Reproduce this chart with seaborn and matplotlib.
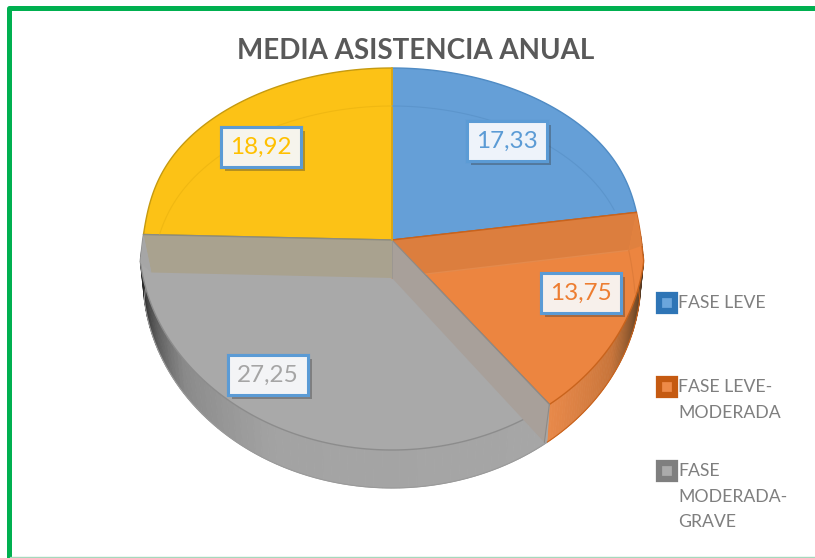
import numpy as np
import matplotlib
matplotlib.use('Agg')
import matplotlib.pyplot as plt
import matplotlib.patheffects as pe
from matplotlib.colors import to_rgb
import seaborn as sns

# Data
fases = ['FASE LEVE', 'FASE LEVE-MODERADA', 'FASE MODERADA-GRAVE', 'SIN NOMBRE']
valores = [17.33, 13.75, 27.25, 18.92]
leyenda = ['FASE LEVE', 'FASE LEVE-\nMODERADA', 'FASE\nMODERADA-\nGRAVE']
titulo = 'MEDIA ASISTENCIA ANUAL'

colores_cara = ['#659FD7', '#EC8540', '#A9A9A9', '#FCC216']
colores_borde = ['#4F8BC4', '#C9631C', '#8C8C8C', '#C59A10']
colores_texto = ['#5B9BD5', '#ED7D31', '#A5A5A5', '#FFC000']
colores_caja = ['#EEF3FA', '#F7F0EB', '#F3F4F6', '#F6F4EC']
leyenda_borde = ['#2E75B6', '#C55A11', '#7F7F7F']
leyenda_cara = ['#6BA6DC', '#EE8A48', '#ABABAB']
pos_etiquetas = [(507, 141), (581, 293), (268, 375), (261, 147)]

sns.set_theme(style='white')
plt.rcParams['font.family'] = ['Lato', 'DejaVu Sans']

fig = plt.figure(figsize=(8.15, 5.58), dpi=100)
ax = fig.add_axes([0, 0, 1, 1])

# the pie gives the angles, the tilted 3D shape is drawn from them
wedges, _ = ax.pie(valores, startangle=90, counterclock=False, colors=colores_cara)
cortes = [(90 - w.theta2, 90 - w.theta1) for w in wedges]
for w in wedges:
    w.remove()
ax.set_aspect('auto')
ax.set_xlim(0, 815)
ax.set_ylim(558, 0)
ax.axis('off')


def borde(ang, cy=240, rx=253):
    ang = np.asarray(ang, dtype=float)
    abajo = (ang > 90) & (ang < 270)
    a = np.radians(ang - abajo * 3.5 * np.sin(np.radians(2 * (ang - 90))))
    c = np.cos(a)
    ry = np.where(c > 0, 172, 210)
    # the back of the disc narrows a little, widest point sits below the centre
    c2 = np.clip(c + 0.1, 0, 1)
    ancho = 1 - 0.2 * c2 * (1 - c2) ** 3
    return 392 + rx * ancho * np.sin(a), cy - ry * c


def suelo(ang, rx=245):
    return borde(ang, cy=278, rx=rx)


def arco(a, b):
    return np.linspace(a, b, max(int(abs(b - a) * 2), 2))


def pared(a, b, paradas):
    # side wall, cut in thin strips to fake the gradient
    pasos = np.linspace(a, b, 70)
    angs = [p[0] for p in paradas]
    rgb = np.array([to_rgb(p[1]) for p in paradas])
    for p, q in zip(pasos[:-1], pasos[1:]):
        tramo = arco(p, q)
        x1, y1 = borde(tramo)
        x2, y2 = suelo(tramo[::-1], rx=249)
        c = [np.interp((p + q) / 2, angs, rgb[:, i]) for i in range(3)]
        ax.fill(np.r_[x1, x2], np.r_[y1, y2], color=c, lw=0.6)


fin_azul = cortes[0][1]
fin_naranja = cortes[1][1]
fin_gris = cortes[2][1]

pared(fin_azul + 8, fin_naranja, [(fin_azul + 8, '#2E2014'), (fin_azul + 24, '#6E4828'),
                                  (fin_azul + 42, '#C8753A'), (fin_naranja, '#E8894A')])
pared(fin_naranja, fin_gris - 5, [(fin_naranja, '#A6A6A6'), (205, '#A3A3A3'), (232, '#8A8A8A'),
                                  (248, '#5A5A5A'), (fin_gris - 9, '#2A2A2A'), (fin_gris - 5, '#2A2A2A')])
x, y = suelo(arco(fin_azul + 8, fin_naranja), rx=249)
ax.plot(x, y, color='#C9631C', lw=0.8, zorder=1)
x, y = suelo(arco(fin_naranja, fin_gris - 5), rx=249)
ax.plot(x, y, color='#9A9A9A', lw=0.8, zorder=1)

# top faces
for (a, b), cara, linea in zip(cortes, colores_cara, colores_borde):
    x, y = borde(arco(a, b))
    ax.fill(np.r_[392, x], np.r_[240, y], facecolor=cara, edgecolor=linea, lw=1)

# glassy inner walls seen through the top
xa, ya = borde(fin_azul)
xs, ys = suelo(fin_azul)
x, y = borde(arco(fin_azul, fin_azul + 11))
ax.fill([392, xa, xs, 392], [240, ya, ys, 278], color='#DC7E3E', lw=0)
ax.fill(np.r_[x, xs], np.r_[y, ys], color='#E0813F', lw=0)
ax.plot([392, xs], [278, ys], color='#E48A4C', lw=1, zorder=1)
ax.plot([392, xa], [240, ya], color='#C9631C', lw=1, zorder=1)

xa, ya = borde(fin_gris)
xs, ys = suelo(fin_gris)
x, y = borde(arco(fin_gris - 9, fin_gris))
ax.fill([392, xa, xs, 392], [240, ya, ys, 278], color='#A9A28F', lw=0)
ax.fill(np.r_[x, xs], np.r_[y, ys], color='#A6A6A6', lw=0)
ax.plot([392, xa], [240, ya], color='#8C8C80', lw=1, zorder=1)

xa, ya = borde(fin_naranja)
xs, ys = suelo(fin_naranja)
ax.fill([392, xa, xs, 392], [240, ya, ys, 278], color='#A8A09A', lw=0)
ax.plot([392, xa, xs], [240, ya, ys], color='#8E8A86', lw=0.8, zorder=1)
ax.plot([392, 392], [240, 278], color='#9A9690', lw=0.6, zorder=1)
ax.plot([392, 392], [borde(0.0)[1], 240], color='#E0A810', lw=1.2, zorder=1)

# faint back rim of the floor, only where it shows above the cut lines
x, y = suelo(arco(0, fin_azul - 14))
ax.plot(x, y, color='#5C95CC', lw=0.8, zorder=1)
x, y = suelo(arco(fin_gris + 13, 360))
ax.plot(x, y, color='#F0B812', lw=0.8, zorder=1)
x, y = suelo(arco(fin_azul, fin_azul + 14))
ax.plot(x, y, color='#DE7C3A', lw=0.8, zorder=1)

# value boxes
for v, (px, py), c, caja in zip(valores, pos_etiquetas, colores_texto, colores_caja):
    t = ax.text(px, py, f'{v:.2f}'.replace('.', ','), color=c, fontsize=17.5,
                ha='center', va='center', zorder=5,
                bbox=dict(boxstyle='square,pad=0.38', facecolor=caja, edgecolor='#5B9BD5', lw=2.2))
    t.get_bbox_patch().set_path_effects([
        pe.withSimplePatchShadow(offset=(3, -3), shadow_rgbFace='#333333', alpha=0.35),
        pe.Normal(),
    ])

ax.text(416, 51, titulo, color='#595959', fontsize=20, fontweight='bold', ha='center', va='center')

# legend, swatch sits on the first line of each label
for etiqueta, yl, eb, ec in zip(leyenda, [303, 387, 471], leyenda_borde, leyenda_cara):
    ax.plot([667], [yl], marker='s', ms=11, mew=4.5, mec=eb, mfc=ec, ls='none')
    for i, linea in enumerate(etiqueta.split('\n')):
        ax.text(678, yl + i * 25.7, linea, color='#7F7F7F', fontsize=12.7, ha='left', va='center')

# green frame of the slide
ax.plot([8.5, 8.5, 815], [558, 8, 8], color='#00B050', lw=3.6, solid_joinstyle='round')
ax.plot([10, 815], [557, 557], color='#A5D8BC', lw=1)

fig.savefig('out.png', dpi=100, facecolor='white')
